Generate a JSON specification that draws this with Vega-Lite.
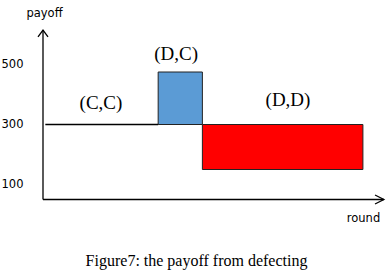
{
  "$schema": "https://vega.github.io/schema/vega-lite/v6.json",
  "autosize": "none",
  "width": 349,
  "height": 240,
  "padding": {"left": 43, "top": 0, "right": 0, "bottom": 38},
  "background": "white",
  "title": {"text": "Figure7: the payoff from defecting", "orient": "bottom", "font": "Liberation Serif", "fontSize": 16, "fontWeight": "normal", "color": "black", "offset": 13, "anchor": "middle", "frame": "bounds"},
  "config": {"view": {"stroke": null}},
  "datasets": {
    "bars": [
      {"start": 4.95, "end": 6.85, "low": 300, "high": 475, "kind": "(D,C)"},
      {"start": 6.85, "end": 13.75, "low": 150, "high": 300, "kind": "(D,D)"}
    ],
    "lines": [
      {"part": "yaxis", "i": 0, "r": 0, "p": 50},
      {"part": "yaxis", "i": 1, "r": 0, "p": 615},
      {"part": "yarrow", "i": 0, "r": -0.215, "p": 592},
      {"part": "yarrow", "i": 1, "r": 0, "p": 615},
      {"part": "yarrow", "i": 2, "r": 0.215, "p": 592},
      {"part": "xaxis", "i": 0, "r": 0, "p": 50},
      {"part": "xaxis", "i": 1, "r": 14.65, "p": 50},
      {"part": "xarrow", "i": 0, "r": 14.27, "p": 35},
      {"part": "xarrow", "i": 1, "r": 14.65, "p": 50},
      {"part": "xarrow", "i": 2, "r": 14.27, "p": 65},
      {"part": "cc", "i": 0, "r": 0.1, "p": 300},
      {"part": "cc", "i": 1, "r": 4.95, "p": 300}
    ],
    "labels": [
      {"r": 2.49, "p": 372, "t": "(C,C)"},
      {"r": 5.72, "p": 535, "t": "(D,C)"},
      {"r": 10.53, "p": 382, "t": "(D,D)"}
    ]
  },
  "layer": [
    {
      "data": {"name": "bars"},
      "mark": {"type": "rect", "stroke": "#222222", "strokeWidth": 1},
      "encoding": {
        "x": {"field": "start", "type": "quantitative", "scale": {"domain": [0, 15], "nice": false, "zero": false},
          "axis": {"orient": "bottom", "domain": false, "ticks": false, "labels": false, "grid": false, "title": "round", "titleX": 320, "titleY": -22, "titleAlign": "center", "titleBaseline": "middle", "titleFont": "DejaVu Sans", "titleFontSize": 11.5, "titleFontWeight": "normal", "titleColor": "black"}},
        "x2": {"field": "end"},
        "y": {"field": "low", "type": "quantitative", "scale": {"domain": [-85, 715], "nice": false, "zero": false},
          "axis": {"values": [100, 300, 500], "domain": false, "ticks": false, "grid": false, "labelFont": "DejaVu Sans", "labelFontSize": 11.5, "labelColor": "black", "labelPadding": 20, "title": "payoff", "titleAngle": 0, "titleX": 1, "titleY": 13, "titleAlign": "center", "titleBaseline": "middle", "titleFont": "DejaVu Sans", "titleFontSize": 11.5, "titleFontWeight": "normal", "titleColor": "black"}},
        "y2": {"field": "high"},
        "color": {"field": "kind", "type": "nominal", "scale": {"domain": ["(D,C)", "(D,D)"], "range": ["#5B9BD5", "#FF0000"]}, "legend": null}
      }
    },
    {
      "data": {"name": "lines"},
      "mark": {"type": "line", "color": "black", "strokeWidth": 1.3},
      "encoding": {
        "x": {"field": "r", "type": "quantitative"},
        "y": {"field": "p", "type": "quantitative"},
        "detail": {"field": "part", "type": "nominal"},
        "order": {"field": "i", "type": "quantitative"}
      }
    },
    {
      "data": {"name": "labels"},
      "mark": {"type": "text", "font": "Liberation Serif", "fontSize": 19, "color": "black", "align": "center", "baseline": "middle"},
      "encoding": {
        "x": {"field": "r", "type": "quantitative"},
        "y": {"field": "p", "type": "quantitative"},
        "text": {"field": "t", "type": "nominal"}
      }
    }
  ]
}
